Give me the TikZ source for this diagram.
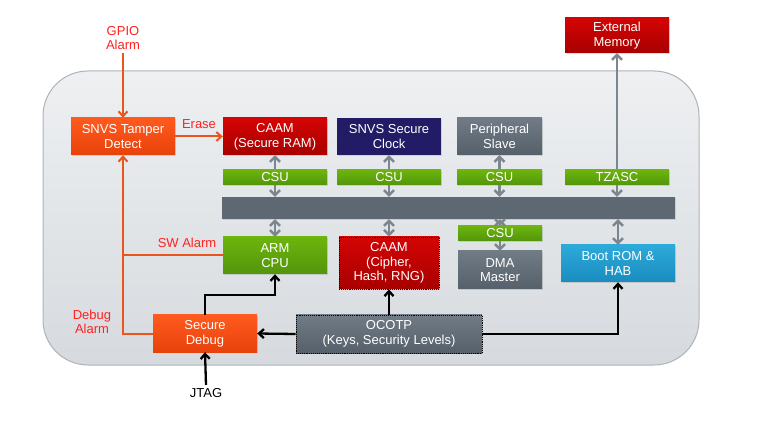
\documentclass[tikz,border=0pt]{standalone}
\usepackage{fontspec}
\setmainfont{Liberation Sans}
\usetikzlibrary{arrows.meta,calc,shadows}
\definecolor{orgA}{HTML}{FF5A1E}
\definecolor{orgB}{HTML}{E8420C}
\definecolor{orgLine}{HTML}{E8561E}
\definecolor{redTxt}{HTML}{FF2222}
\definecolor{redA}{HTML}{D40404}
\definecolor{redB}{HTML}{A80000}
\definecolor{navy}{HTML}{221C66}
\definecolor{gryA}{HTML}{717B85}
\definecolor{gryB}{HTML}{56606A}
\definecolor{grnA}{HTML}{6DB40E}
\definecolor{grnB}{HTML}{52960A}
\definecolor{bluA}{HTML}{2CAADA}
\definecolor{bluB}{HTML}{1A8CBE}
\definecolor{busC}{HTML}{5E6872}
\definecolor{arrG}{HTML}{7C868E}
\definecolor{contA}{HTML}{EEF0F2}
\definecolor{contB}{HTML}{D6DADE}
\definecolor{contE}{HTML}{AEB3B8}
\pgfdeclarelayer{back}
\pgfdeclarelayer{mid}
\pgfsetlayers{back,mid,main}
\begin{document}
\begin{tikzpicture}[x=1pt,y=-1pt,
  every node/.style={font=\fontsize{13}{14.7}\selectfont},
  box/.style={rectangle, inner sep=0pt, align=center, text=white,
     drop shadow={opacity=0.25, shadow xshift=1.2pt, shadow yshift=-1.2pt}},
  orgbox/.style={box, top color=orgA, bottom color=orgB},
  redbox/.style={box, top color=redA, bottom color=redB},
  navbox/.style={box, fill=navy},
  grybox/.style={box, top color=gryA, bottom color=gryB},
  grnbox/.style={box, top color=grnA, bottom color=grnB},
  blubox/.style={box, top color=bluA, bottom color=bluB},
  lbl/.style={text=redTxt, align=center},
  oarr/.style={draw=orgLine, line width=2pt, -{Straight Barb[length=5pt,width=9pt]}},
  oline/.style={draw=orgLine, line width=2pt},
  karr/.style={draw=black, line width=2.3pt, -{Straight Barb[length=5pt,width=9pt]}},
  garr/.style={draw=arrG, line width=2.5pt, {Straight Barb[length=5pt,width=10pt]}-{Straight Barb[length=5pt,width=10pt]}},
  gsarr/.style={draw=arrG, line width=2.5pt, -{Straight Barb[length=5pt,width=10pt]}},
  dotb/.style={draw=black, densely dotted, line width=0.9pt}
]
\useasboundingbox (0,0) rectangle (771,430);

% container
\begin{pgfonlayer}{back}
\draw[contE, line width=1pt, top color=contA, bottom color=contB, rounded corners=45pt] (43,71) rectangle (699,365);
\end{pgfonlayer}

% top row
\node[orgbox, minimum width=104, minimum height=37] (tamper) at (123,136.5) {SNVS Tamper\\Detect};
\node[redbox, minimum width=104, minimum height=37] (caam1) at (275,136.5) {CAAM\\(Secure RAM)};
\node[navbox, minimum width=104, minimum height=37] (clock) at (389,136.5) {SNVS Secure\\Clock};
\node[grybox, minimum width=85, minimum height=37] (periph) at (499.5,136.5) {Peripheral\\Slave};
\node[redbox, minimum width=104, minimum height=35] (extmem) at (617,35.5) {External\\Memory};

% bus
\node[box, fill=busC, minimum width=453, minimum height=22] (bus) at (448.5,208) {};

% CSU row
\node[grnbox, minimum width=104, minimum height=15] (csu1) at (275,177.5) {CSU};
\node[grnbox, minimum width=104, minimum height=15] (csu2) at (389,177.5) {CSU};
\node[grnbox, minimum width=85, minimum height=15] (csu3) at (499.5,177.5) {CSU};
\node[grnbox, minimum width=104, minimum height=15] (tzasc) at (617,177.5) {TZASC};

% lower row
\node[grnbox, minimum width=104, minimum height=37] (arm) at (275,255.5) {ARM\\CPU};
\node[redbox, minimum width=100, minimum height=52, dotb] (caam2) at (389,263) {CAAM\\(Cipher,\\Hash, RNG)};
\node[grnbox, minimum width=84, minimum height=15] (csu4) at (500,233.5) {CSU};
\node[grybox, minimum width=84, minimum height=38] (dma) at (500,270) {DMA\\Master};
\node[blubox, minimum width=114, minimum height=37] (boot) at (618,263.5) {Boot ROM \&\\HAB};
\node[grybox, minimum width=186, minimum height=38, dotb] (ocotp) at (389,334) {OCOTP\\(Keys, Security Levels)};
\node[orgbox, minimum width=104, minimum height=37] (debug) at (205,333.5) {Secure\\Debug};

% labels
\node[lbl] (gpio) at (123,38) {GPIO\\Alarm};
\node[lbl] (erase) at (199,124) {Erase};
\node[lbl] (swal) at (187,243) {SW Alarm};
\node[lbl] (dbgal) at (92,322) {Debug\\Alarm};
\node (jtag) at (206,393) {JTAG};

% gray bus connectors
\begin{pgfonlayer}{mid}
\draw[garr] (caam1.south) -- (caam1.south |- bus.north);
\draw[garr] (clock.south) -- (clock.south |- bus.north);
\draw[garr] (periph.south) -- (periph.south |- bus.north);
\draw[garr] (extmem.south) -- (extmem.south |- bus.north);
\end{pgfonlayer}
\draw[garr] (arm.north |- bus.south) -- (arm.north);
\draw[garr] (caam2.north |- bus.south) -- (caam2.north);
\draw[garr] (csu4.north |- bus.south) -- (csu4.north);
\draw[gsarr] (csu4.south) -- (dma.north);
\draw[garr] (boot.north |- bus.south) -- (boot.north);

% orange connectors
\coordinate (j1) at (123,333.5);
\draw[oarr] (gpio.south) -- (tamper.north);
\draw[oarr] (tamper.east) -- (caam1.west);
\draw[oline] (arm.west) -- (arm.west -| j1);
\draw[oarr] (debug.west) -- (j1) -- (tamper.south);

% black connectors
\coordinate (c1) at (275,295);
\draw[karr] (jtag.north) -- (debug.south);
\draw[karr] (debug.north) |- (c1) -- (arm.south);
\draw[karr] (ocotp.west) -- (debug.east);
\draw[karr] (ocotp.north) -- (caam2.south);
\draw[karr] (ocotp.east) -| (boot.south);
\end{tikzpicture}
\end{document}
